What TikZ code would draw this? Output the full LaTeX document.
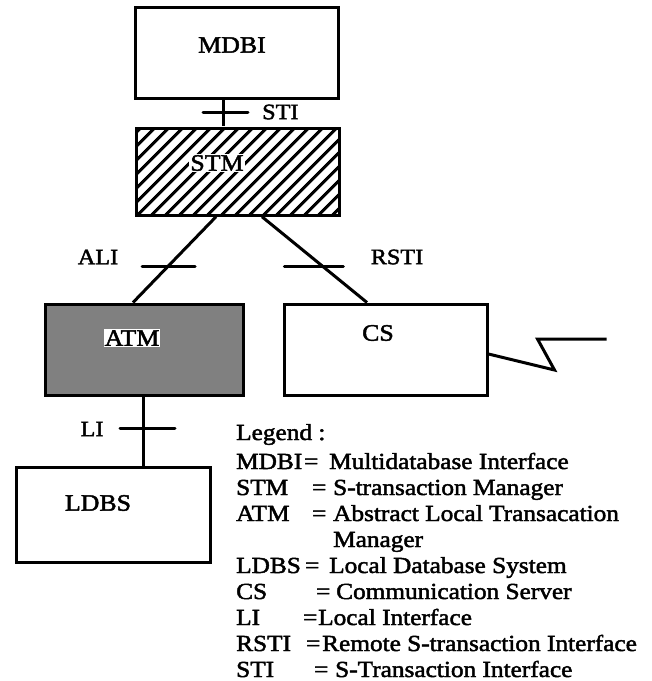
\documentclass[tikz,border=0pt]{standalone}
\usepackage{fontspec}
\setmainfont{Liberation Serif}[FakeStretch=1.1,FakeBold=2]
\usetikzlibrary{patterns.meta}
\begin{document}
\begin{tikzpicture}[x=1pt,y=-1pt,
  box/.style={draw,line width=3pt,inner sep=0pt,anchor=center},
  conn/.style={line width=3pt},
  tick/.style={line width=3pt,line cap=round},
  boxlabel/.style={font=\fontsize{23.5}{26}\selectfont,inner sep=1pt},
  iflabel/.style={font=\fontsize{22}{24}\selectfont,inner sep=0pt},
  leg/.style={font=\fontsize{23}{24}\selectfont,inner sep=0pt,anchor=base west}]
\useasboundingbox (0,0) rectangle (652,681);
% boxes
\node[box,minimum width=203pt,minimum height=91pt] (mdbi) at (236.5,52.5) {};
\node[box,minimum width=203pt,minimum height=87pt,
  pattern={Lines[angle=45,distance=10.5pt,line width=3.5pt]}] (stm) at (237.5,171.5) {};
\node[box,minimum width=198pt,minimum height=91pt,fill=black!50] (atm) at (144,349.5) {};
\node[box,minimum width=203pt,minimum height=91pt] (cs) at (385.5,349.5) {};
\node[box,minimum width=194pt,minimum height=95pt] (ldbs) at (113,514.5) {};
% box labels
\node[boxlabel] (tmdbi) at (232,45) {MDBI};
\node[boxlabel,fill=white] (tstm) at (217,163) {STM};
\node[boxlabel,fill=white] (tatm) at (132,338) {ATM};
\node[boxlabel] (tcs) at (378,333) {CS};
\node[boxlabel] (tldbs) at (98,503) {LDBS};
% connectors with ticks
\draw[conn] ([xshift=-13.5pt]mdbi.south) -- coordinate[pos=0.47] (t1) ([xshift=-14.5pt]stm.north);
\draw[tick] ([xshift=-20pt]t1) -- ([xshift=25pt]t1);
\draw[conn] ([xshift=-21.5pt]stm.south) -- coordinate[pos=0.584] (t2) ([xshift=-11pt]atm.north);
\draw[tick] ([xshift=-25.5pt]t2) -- ([xshift=27.5pt]t2);
\draw[conn] ([xshift=24.5pt]stm.south) -- coordinate[pos=0.584] (t3) ([xshift=-18.5pt]cs.north);
\draw[tick] ([xshift=-39pt]t3) -- ([xshift=20pt]t3);
\draw[conn] ([xshift=-1pt]atm.south) -- coordinate[pos=0.47] (t4) ([xshift=30pt]ldbs.north);
\draw[tick] ([xshift=-23pt]t4) -- ([xshift=32pt]t4);
% zigzag
\draw[conn,line join=miter] ([yshift=-4.5pt]cs.east) -- ++(66,16) -- ++(-17,-31) -- ++(69,0) coordinate (zz);
% interface labels
\node[iflabel,anchor=west] (lsti) at (262,112) {STI};
\node[iflabel] (lali) at (98,257) {ALI};
\node[iflabel] (lrsti) at (397,257) {RSTI};
\node[iflabel] (lli) at (92,429) {LI};
% legend
\node[leg] (lg) at (236,440) {Legend :};
\node[leg] (a1) at (236,469) {MDBI};  \node[leg] (e1) at (304,469) {=}; \node[leg] (d1) at (329,469) {Multidatabase Interface};
\node[leg] (a2) at (236,495) {STM};   \node[leg] (e2) at (312,495) {=}; \node[leg] (d2) at (333,495) {S-transaction Manager};
\node[leg] (a3) at (236,521) {ATM};   \node[leg] (e3) at (312,521) {=}; \node[leg] (d3) at (333,521) {Abstract Local Transacation};
\node[leg] (d3b) at (333,547) {Manager};
\node[leg] (a4) at (236,573) {LDBS};  \node[leg] (e4) at (305,573) {=}; \node[leg] (d4) at (329,573) {Local Database System};
\node[leg] (a5) at (236,599) {CS};    \node[leg] (e5) at (316,599) {=}; \node[leg] (d5) at (336,599) {Communication Server};
\node[leg] (a6) at (236,625) {LI};    \node[leg] (e6) at (303,625) {=}; \node[leg] (d6) at (318,625) {Local Interface};
\node[leg] (a7) at (236,651) {RSTI};  \node[leg] (e7) at (306,651) {=}; \node[leg] (d7) at (322,651) {Remote S-transaction Interface};
\node[leg] (a8) at (236,677) {STI};   \node[leg] (e8) at (314,677) {=}; \node[leg] (d8) at (335,677) {S-Transaction Interface};
\end{tikzpicture}
\end{document}
